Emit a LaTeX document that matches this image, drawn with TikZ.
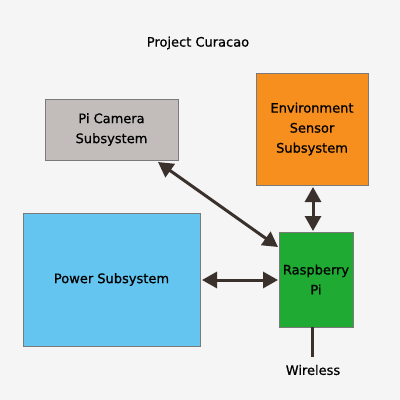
\documentclass[tikz,border=0pt]{standalone}
\usepackage{fontspec}
\setmainfont{DejaVu Sans}[FakeBold=0.8]
\usetikzlibrary{arrows.meta}
\definecolor{bg}{HTML}{F5F5F5}
\definecolor{camgray}{HTML}{C2BDBA}
\definecolor{envorange}{HTML}{F78F1E}
\definecolor{powblue}{HTML}{63C5F0}
\definecolor{pigreen}{HTML}{1FAA33}
\definecolor{arrowc}{HTML}{3A302C}
\definecolor{edgec}{HTML}{7A7A7A}
\begin{document}
\begin{tikzpicture}[x=1pt,y=-1pt,
  box/.style={draw=edgec, line width=0.8pt, inner sep=0pt, align=center, font=\fontsize{13}{20}\selectfont},
  link/.style={draw=arrowc, line width=3pt, {Triangle[length=15pt,width=16pt]}-{Triangle[length=15pt,width=16pt]}},
  lbl/.style={font=\fontsize{13}{15}\selectfont, inner sep=0pt}]
\fill[bg] (0,0) rectangle (400,400);
\useasboundingbox (0,0) rectangle (400,400);
\node[lbl] (title) at (198,43) {Project Curacao};
\node[box, fill=camgray, minimum width=133pt, minimum height=61pt] (cam) at (111.5,129.5) {Pi Camera\\Subsystem};
\node[box, fill=envorange, minimum width=112pt, minimum height=112pt] (env) at (312,129) {Environment\\Sensor\\Subsystem};
\node[box, fill=powblue, minimum width=177pt, minimum height=133pt] (pow) at (111.5,279.5) {Power Subsystem};
\node[box, fill=pigreen, minimum width=74pt, minimum height=95pt] (pi) at (316,279.5) {Raspberry\\Pi};
\node[lbl] (wl) at (313,370) {Wireless};
\coordinate (wtop) at (312,357);
\coordinate (c1) at (158,162);
\coordinate (p1) at (278,247);
\coordinate (e1) at (313,187);
\coordinate (e2) at (313,231);
\coordinate (w1) at (202,280);
\coordinate (w2) at (278,280);
\draw[link] (c1) -- (p1);
\draw[link] (e1) -- (e2);
\draw[link] (w1) -- (w2);
\draw[draw=arrowc, line width=3pt] (pi.south -| wtop) -- (wtop);
\end{tikzpicture}
\end{document}
